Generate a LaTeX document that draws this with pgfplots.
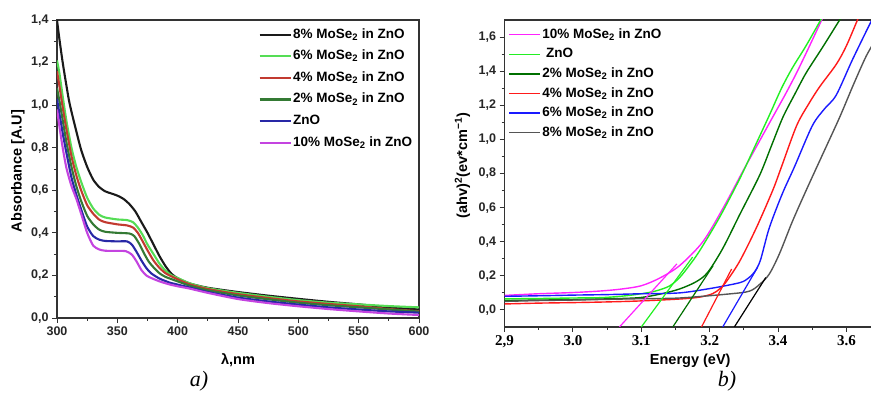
\documentclass[border=0pt]{standalone}
\usepackage{fontspec}
\setmainfont{Liberation Sans}
\newfontfamily\timesfont{Liberation Serif}
\usepackage{pgfplots}
\pgfplotsset{compat=1.18}
\definecolor{cBlackL}{HTML}{1A1A1A}
\definecolor{cGreenL}{HTML}{55DD55}
\definecolor{cRedL}{HTML}{C23A30}
\definecolor{cDkGreenL}{HTML}{347A34}
\definecolor{cBlueL}{HTML}{2828A6}
\definecolor{cVioletL}{HTML}{C444E0}
\definecolor{cMag}{HTML}{FF22FF}
\definecolor{cGreenR}{HTML}{22F022}
\definecolor{cDkGreenR}{HTML}{007000}
\definecolor{cRedR}{HTML}{FF1A1A}
\definecolor{cBlueR}{HTML}{1A1AFF}
\definecolor{cGrayR}{HTML}{555555}
\begin{document}
\begin{tikzpicture}
\path[use as bounding box] (0pt,0pt) rectangle (871pt,398pt);
\pgfplotsset{
  common/.style={
    scale only axis,
    axis line style={line width=1.1pt, black!80},
    tick align=outside, tick pos=left,
    major tick length=5pt, minor tick length=3pt,
    every tick/.style={line width=0.9pt, black!80},
    /pgf/number format/assume math mode=true,
    tick label style={font=\fontsize{12.5}{13}\selectfont\bfseries, black!85},
    label style={font=\fontsize{14.5}{15}\selectfont\bfseries},
    legend cell align=left,
    legend image code/.code={\draw (0pt,0pt) -- (31pt,0pt);},
  }
}
% ---------------- left panel ----------------
\begin{axis}[common,
  at={(57pt,80pt)}, anchor=south west,
  width=362pt, height=298pt,
  xmin=300, xmax=600, ymin=0, ymax=1.4,
  xtick={300,350,...,600}, minor x tick num=1,
  ytick={0,0.2,...,1.4}, minor y tick num=1,
  yticklabel style={/pgf/number format/.cd, fixed, fixed zerofill, precision=1, use comma},
  xlabel={λ,nm}, ylabel={Absorbance [A.U]},
  xlabel style={at={(axis description cs:0.5,0)}, anchor=center, yshift=-42pt},
  ylabel style={at={(axis description cs:0,0.5)}, anchor=center, yshift=39pt, xshift=-2pt},
  legend style={draw=none, fill=none, at={(rel axis cs:0.548,0.985)}, anchor=north west,
    font=\fontsize{13.5}{14}\selectfont\bfseries, row sep=5.6pt,
    nodes={text height=10pt, text depth=3pt, inner sep=1.5pt}},
  every axis plot/.append style={line width=2.1pt, smooth, tension=0.4},
]
\addplot[cBlackL] coordinates {(300,1.40)(302,1.31)(305,1.19)(310,1.02)(315,0.90)(320,0.79)(325,0.71)(330,0.65)(335,0.615)(340,0.595)(345,0.585)(350,0.575)(355,0.56)(360,0.535)(365,0.50)(370,0.45)(375,0.40)(380,0.345)(385,0.29)(390,0.243)(395,0.207)(400,0.187)(410,0.162)(425,0.142)(450,0.122)(475,0.105)(500,0.09)(525,0.076)(550,0.064)(575,0.05)(600,0.04)};
\addlegendentry{8\% MoSe\textsubscript{2} in ZnO}
\addplot[cGreenL] coordinates {(300,1.21)(302,1.15)(305,1.03)(308,0.92)(312,0.80)(316,0.71)(320,0.64)(325,0.565)(330,0.515)(335,0.485)(340,0.472)(350,0.463)(358,0.46)(363,0.45)(367,0.425)(371,0.39)(375,0.345)(380,0.30)(385,0.255)(390,0.222)(395,0.20)(400,0.188)(410,0.163)(425,0.14)(450,0.118)(475,0.10)(500,0.084)(525,0.072)(550,0.064)(575,0.056)(600,0.05)};
\addlegendentry{6\% MoSe\textsubscript{2} in ZnO}
\addplot[cRedL] coordinates {(300,1.16)(302,1.09)(305,0.98)(308,0.88)(312,0.76)(316,0.67)(320,0.60)(325,0.53)(330,0.49)(335,0.462)(340,0.45)(350,0.44)(358,0.435)(363,0.425)(367,0.40)(371,0.36)(375,0.318)(380,0.27)(385,0.235)(390,0.21)(395,0.195)(400,0.182)(410,0.158)(425,0.136)(450,0.112)(475,0.094)(500,0.078)(525,0.066)(550,0.055)(575,0.042)(600,0.032)};
\addlegendentry{4\% MoSe\textsubscript{2} in ZnO}
\addplot[cDkGreenL] coordinates {(300,1.08)(302,1.02)(305,0.92)(308,0.82)(312,0.71)(316,0.62)(320,0.55)(325,0.48)(330,0.44)(335,0.415)(340,0.405)(350,0.40)(360,0.397)(364,0.385)(368,0.35)(372,0.305)(376,0.265)(380,0.238)(385,0.21)(390,0.193)(400,0.172)(410,0.152)(425,0.13)(450,0.106)(475,0.088)(500,0.072)(525,0.06)(550,0.05)(575,0.04)(600,0.03)};
\addlegendentry{2\% MoSe\textsubscript{2} in ZnO}
\addplot[cBlueL] coordinates {(300,1.03)(302,0.96)(305,0.86)(308,0.77)(312,0.66)(316,0.58)(320,0.51)(325,0.43)(330,0.385)(335,0.368)(340,0.362)(350,0.36)(358,0.36)(362,0.345)(366,0.31)(370,0.27)(374,0.235)(378,0.21)(385,0.185)(393,0.167)(400,0.157)(410,0.143)(425,0.122)(450,0.096)(475,0.078)(500,0.063)(525,0.05)(550,0.04)(575,0.031)(600,0.025)};
\addlegendentry{ZnO}
\addplot[cVioletL] coordinates {(300,0.98)(302,0.90)(305,0.79)(308,0.70)(312,0.62)(316,0.56)(320,0.49)(325,0.40)(330,0.34)(335,0.322)(340,0.316)(350,0.315)(357,0.314)(362,0.298)(366,0.265)(370,0.225)(374,0.20)(378,0.188)(385,0.172)(393,0.158)(400,0.149)(410,0.138)(425,0.118)(450,0.089)(475,0.07)(500,0.055)(525,0.042)(550,0.031)(575,0.021)(600,0.014)};
\addlegendentry{10\% MoSe\textsubscript{2} in ZnO}
\end{axis}
\node[font=\timesfont\itshape\fontsize{22}{22}\selectfont] at (199pt,17pt) {a)};
% ---------------- right panel ----------------
\begin{axis}[common,
  at={(504.5pt,71pt)}, anchor=south west,
  width=371.5pt, height=307pt,
  xmin=2.9, xmax=3.4431, ymin=-0.1, ymax=1.7,
  xtick={2.9,3.0,3.1,3.2,3.3,3.4}, xticklabels={{2,9},3.0,3.1,3.2,3.4,3.6},
  minor x tick num=1,
  xticklabel style={font=\timesfont\bfseries\fontsize{15}{15}\selectfont, black},
  ytick={0,0.2,...,1.6}, minor y tick num=1,
  yticklabel style={/pgf/number format/.cd, fixed, fixed zerofill, precision=1, use comma},
  xlabel={Energy (eV)}, ylabel={(ahv)\textsuperscript{2}(ev*cm\textsuperscript{−1})},
  xlabel style={at={(axis description cs:0.5,0)}, anchor=center, yshift=-34pt},
  ylabel style={at={(axis description cs:0,0.5)}, anchor=center, yshift=42pt, xshift=8pt},
  legend style={draw=none, fill=none, at={(rel axis cs:0.002,0.985)}, anchor=north west,
    font=\fontsize{13.5}{14}\selectfont\bfseries, row sep=3.6pt,
    nodes={text height=10pt, text depth=3pt, inner sep=1.5pt}},
  every axis plot/.append style={line width=1.4pt},
]
\addplot[cMag, smooth] coordinates {(2.9,0.085)(2.95,0.095)(3.0,0.102)(3.04,0.111)(3.07,0.122)(3.1,0.142)(3.127,0.187)(3.156,0.26)(3.19,0.40)(3.22,0.60)(3.248,0.81)(3.27,0.97)(3.292,1.13)(3.31,1.26)(3.327,1.39)(3.345,1.54)(3.366,1.72)};
\addlegendentry{10\% MoSe\textsubscript{2} in ZnO}
\addplot[cGreenR, smooth] coordinates {(2.9,0.065)(2.95,0.067)(3.0,0.07)(3.04,0.072)(3.07,0.08)(3.097,0.093)(3.12,0.11)(3.141,0.14)(3.156,0.19)(3.17,0.26)(3.185,0.345)(3.214,0.54)(3.244,0.77)(3.265,0.95)(3.287,1.14)(3.305,1.30)(3.321,1.42)(3.341,1.55)(3.365,1.72)};
\addlegendentry{\ ZnO}
\addplot[cDkGreenR, smooth] coordinates {(2.9,0.055)(2.95,0.058)(3.0,0.06)(3.05,0.065)(3.097,0.072)(3.13,0.095)(3.156,0.123)(3.18,0.165)(3.197,0.22)(3.219,0.36)(3.244,0.56)(3.273,0.79)(3.29,0.96)(3.307,1.13)(3.325,1.27)(3.341,1.39)(3.365,1.54)(3.393,1.72)};
\addlegendentry{2\% MoSe\textsubscript{2} in ZnO}
\addplot[cRedR, smooth] coordinates {(2.9,0.035)(2.95,0.04)(3.0,0.043)(3.05,0.047)(3.1,0.053)(3.156,0.064)(3.185,0.075)(3.204,0.095)(3.215,0.125)(3.225,0.17)(3.244,0.287)(3.268,0.48)(3.292,0.70)(3.305,0.84)(3.327,1.08)(3.345,1.21)(3.361,1.31)(3.385,1.44)(3.40,1.55)(3.418,1.72)};
\addlegendentry{4\% MoSe\textsubscript{2} in ZnO}
\addplot[cBlueR, smooth] coordinates {(2.9,0.08)(2.95,0.083)(3.0,0.087)(3.05,0.09)(3.1,0.095)(3.156,0.10)(3.204,0.128)(3.244,0.16)(3.256,0.185)(3.265,0.22)(3.274,0.29)(3.287,0.48)(3.306,0.68)(3.324,0.84)(3.35,1.08)(3.368,1.18)(3.385,1.26)(3.409,1.47)(3.437,1.70)(3.445,1.76)};
\addlegendentry{6\% MoSe\textsubscript{2} in ZnO}
\addplot[cGrayR, smooth] coordinates {(2.9,0.05)(2.95,0.055)(3.0,0.058)(3.05,0.062)(3.1,0.066)(3.156,0.07)(3.229,0.094)(3.258,0.11)(3.273,0.15)(3.287,0.21)(3.302,0.33)(3.321,0.52)(3.342,0.71)(3.366,0.92)(3.39,1.13)(3.41,1.32)(3.429,1.49)(3.445,1.60)};
\addlegendentry{8\% MoSe\textsubscript{2} in ZnO}
% tangent lines
\addplot[cMag, line width=1.2pt, forget plot] coordinates {(3.068,-0.1)(3.152,0.27)};
\addplot[cGreenR, line width=1.2pt, forget plot] coordinates {(3.100,-0.1)(3.175,0.31)};
\addplot[cDkGreenR, line width=1.2pt, forget plot] coordinates {(3.146,-0.1)(3.205,0.26)};
\addplot[cRedR, line width=1.2pt, forget plot] coordinates {(3.188,-0.1)(3.232,0.24)};
\addplot[cBlueR, line width=1.2pt, forget plot] coordinates {(3.219,-0.1)(3.270,0.25)};
\addplot[black, line width=1.2pt, forget plot] coordinates {(3.236,-0.1)(3.282,0.19)};
\end{axis}
\node[font=\timesfont\itshape\fontsize{22}{22}\selectfont] at (727pt,17pt) {b)};
\end{tikzpicture}
\end{document}
